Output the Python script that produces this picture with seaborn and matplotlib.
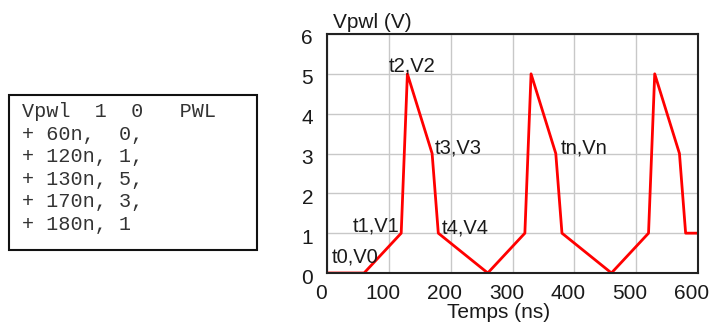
import matplotlib
matplotlib.use("Agg")
import matplotlib.pyplot as plt
import matplotlib.transforms as mtransforms
import seaborn as sns
import pandas as pd
from matplotlib.patches import Rectangle

# PWL source breakpoints (time in ns, voltage in V)
t_ns = [0, 60, 120, 130, 170, 180, 260, 320, 330, 370, 380, 460, 520, 530, 570, 580, 600]
v_volts = [0, 0, 1, 5, 3, 1, 0, 1, 5, 3, 1, 0, 1, 5, 3, 1, 1]

# Point labels and their anchor positions (data coords)
point_labels = ["t0,V0", "t1,V1", "t2,V2", "t3,V3", "t4,V4", "tn,Vn"]
label_x = [7, 42, 100, 175, 186, 378]
label_y = [0.41, 1.19, 5.2, 3.14, 1.13, 3.14]

# SPICE netlist snippet
netlist = ["Vpwl  1  0   PWL",
           "+ 60n,  0,",
           "+ 120n, 1,",
           "+ 130n, 5,",
           "+ 170n, 3,",
           "+ 180n, 1"]

x_ticks = [0, 100, 200, 300, 400, 500, 600]
y_ticks = [0, 1, 2, 3, 4, 5, 6]

sns.set_theme(style="whitegrid")
plt.rcParams['font.family'] = ['Liberation Sans', 'DejaVu Sans']

W, H = 709, 327
fig = plt.figure(figsize=(W / 100, H / 100), dpi=100)
ax = fig.add_axes([327 / W, 1 - 273 / H, (698 - 327) / W, (273 - 34) / H])

df = pd.DataFrame({"t": t_ns, "v": v_volts})
sns.lineplot(data=df, x="t", y="v", ax=ax, color="#ff0000", linewidth=2,
             sort=False, estimator=None)

ax.set_xlim(0, 600)
ax.set_ylim(0, 6)
ax.set_xticks(x_ticks)
ax.set_yticks(y_ticks)
ax.tick_params(axis="both", length=0, labelsize=15, colors="#1a1a1a")
ax.tick_params(axis="x", pad=8)
ax.tick_params(axis="y", pad=10)
ax.set_xlabel("")
ax.set_ylabel("")
ax.grid(True, color="#c8c8c8", linewidth=1)
ax.set_facecolor("white")
for s in ax.spines.values():
    s.set_visible(True)
    s.set_color("#222222")
    s.set_linewidth(1.5)

# Nudge tick labels slightly left / down
xoff = mtransforms.ScaledTranslation(-6 / 100, 0, fig.dpi_scale_trans)
yoff = mtransforms.ScaledTranslation(0, -3 / 100, fig.dpi_scale_trans)
for lbl in ax.get_xticklabels():
    lbl.set_transform(lbl.get_transform() + xoff)
for lbl in ax.get_yticklabels():
    lbl.set_transform(lbl.get_transform() + yoff)

for lab, lx, ly in zip(point_labels, label_x, label_y):
    ax.text(lx, ly, lab, fontsize=14.5, ha="left", va="center", color="#1a1a1a")

fig.text(333 / W, 1 - 22 / H, "Vpwl (V)", fontsize=15, ha="left", va="center", color="#1a1a1a")
fig.text(499 / W, 1 - 313 / H, "Temps (ns)", fontsize=15, ha="center", va="center", color="#1a1a1a")

# Netlist box
fig.patches.append(Rectangle((9 / W, 1 - 250 / H), (257 - 9) / W, (250 - 95) / H,
                             transform=fig.transFigure, fill=False,
                             edgecolor="#111111", linewidth=1.5))
for i, line in enumerate(netlist):
    fig.text(22 / W, 1 - (111.5 + 22.6 * i) / H, line, fontsize=14.5,
             family=["Liberation Mono", "DejaVu Sans Mono"],
             ha="left", va="center", color="#333333")

fig.savefig("out.png", dpi=100)
